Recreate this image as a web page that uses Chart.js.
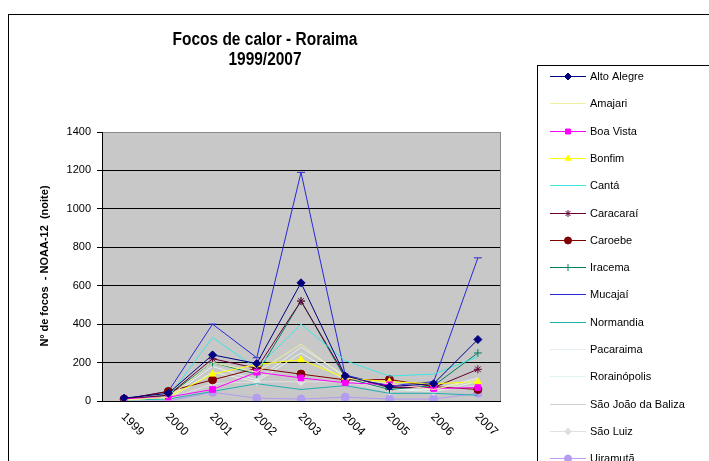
<!DOCTYPE html>
<html><head><meta charset="utf-8">
<script src="https://cdn.jsdelivr.net/npm/chart.js@4.4.0/dist/chart.umd.min.js"></script>
<style>html,body{margin:0;padding:0;background:#fff;}#wrap{width:709px;height:461px;position:relative;}</style>
</head><body><div id="wrap"><canvas id="c" width="709" height="461"></canvas></div>
<script>
const years = ['1999','2000','2001','2002','2003','2004','2005','2006','2007'];
const yTicks = [0,200,400,600,800,1000,1200,1400];
const titleLines = ['Focos de calor - Roraima','1999/2007'];
const yTitle = 'Nº de focos  - NOAA-12  (noite)';

const altoAlegre   = [15, 40, 240, 195, 615, 130, 75, 90, 320];
const amajari      = [5, 20, 200, 150, 295, 120, 90, 60, 110];
const boaVista     = [10, 20, 60, 150, 120, 95, 85, 65, 70];
const bonfim       = [5, 20, 140, 190, 215, 120, 100, 90, 100];
const canta        = [5, 20, 330, 170, 400, 210, 130, 140, 230];
const caracarai    = [10, 30, 220, 170, 520, 130, 70, 70, 165];
const caroebe      = [10, 50, 110, 170, 140, 110, 112, 75, 60];
const iracema      = [10, 30, 200, 140, 520, 120, 60, 80, 250];
const mucajai      = [10, 50, 400, 225, 1190, 135, 80, 100, 745];
const normandia    = [5, 10, 50, 90, 60, 80, 40, 40, 30];
const pacaraima    = [5, 15, 180, 110, 280, 130, 60, 60, 120];
const rorainopolis = [5, 10, 150, 100, 250, 110, 60, 50, 100];
const saoJoao      = [5, 10, 80, 130, 150, 90, 50, 50, 70];
const saoLuiz      = [5, 10, 90, 100, 100, 100, 50, 50, 80];
const uiramuta     = [0, 0, 45, 15, 10, 20, 10, 10, 40];

const seriesNames = ['Alto Alegre','Amajari','Boa Vista','Bonfim','Cantá','Caracaraí','Caroebe','Iracema','Mucajaí','Normandia','Pacaraima','Rorainópolis','São João da Baliza','São Luiz','Uiramutã'];
const seriesData = [altoAlegre,amajari,boaVista,bonfim,canta,caracarai,caroebe,iracema,mucajai,normandia,pacaraima,rorainopolis,saoJoao,saoLuiz,uiramuta];
const seriesColors = ['#000080','#f0f0a0','#ff00ff','#ffff00','#40e4e4','#660033','#800000','#008060','#2828d8','#20b0b0','#e2f0f6','#e0f6e8','#d0d0d0','#e0e0e0','#b49cf0'];
const seriesMarkers = ['rectRot',false,'rect','triangle',false,'star','circle','cross','line',false,false,false,false,'rectRot','circle'];

const datasets = seriesNames.map((n,i)=>({
  label:n, data:seriesData[i], borderColor:seriesColors[i], backgroundColor:seriesColors[i],
  borderWidth:1, tension:0, pointStyle:seriesMarkers[i]||'circle',
  pointRadius:seriesMarkers[i]?4:0, pointBorderWidth:1, pointHoverRadius:0
}));

const deco = {
  id:'deco',
  beforeDraw(chart){
    const ctx=chart.ctx, a=chart.chartArea;
    ctx.save();
    ctx.fillStyle='#fff'; ctx.fillRect(0,0,chart.width,chart.height);
    ctx.strokeStyle='#000'; ctx.lineWidth=1;
    ctx.strokeRect(8.5,14.5,760,520);
    ctx.fillStyle='#c8c8c8'; ctx.fillRect(a.left,a.top,a.right-a.left,a.bottom-a.top);
    ctx.strokeStyle='#8a8a8a';
    ctx.beginPath(); ctx.moveTo(a.right+0.5,a.top); ctx.lineTo(a.right+0.5,a.bottom); ctx.stroke();
    ctx.restore();
  },
  afterDraw(chart){
    const ctx=chart.ctx, a=chart.chartArea;
    ctx.save();
    ctx.fillStyle='#000'; ctx.textAlign='center'; ctx.textBaseline='middle';
    ctx.font='bold 18px "Liberation Sans", Arial, sans-serif';
    ctx.save(); ctx.translate(265,40); ctx.scale(0.86,1); ctx.fillText(titleLines[0],0,0); ctx.restore();
    ctx.save(); ctx.translate(265,60); ctx.scale(0.86,1); ctx.fillText(titleLines[1],0,0); ctx.restore();
    ctx.save();
    ctx.translate(45,266); ctx.rotate(-Math.PI/2);
    ctx.font='bold 11px "Liberation Sans", Arial, sans-serif';
    ctx.fillText(yTitle,0,0);
    ctx.restore();
    const xs=chart.scales.x;
    ctx.font='12px "Liberation Sans", Arial, sans-serif';
    ctx.textAlign='left'; ctx.textBaseline='middle';
    years.forEach((y,i)=>{
      const px=xs.getPixelForValue(i);
      ctx.save(); ctx.translate(px-1,415); ctx.rotate(Math.PI/4);
      ctx.fillText(y,0,0); ctx.restore();
    });
    ctx.strokeStyle='#000'; ctx.lineWidth=1;
    ctx.strokeRect(537.5,65.5,220,440);
    ctx.font='11px "Liberation Sans", Arial, sans-serif';
    ctx.textAlign='left'; ctx.textBaseline='middle';
    chart.data.datasets.forEach((ds,i)=>{
      const y=Math.round(76+i*27.3)+0.5;
      ctx.strokeStyle=ds.borderColor; ctx.lineWidth=1;
      ctx.beginPath(); ctx.moveTo(550,y); ctx.lineTo(586,y); ctx.stroke();
      if(ds.pointRadius>0 && Chart.helpers && Chart.helpers.drawPoint){
        ctx.fillStyle=ds.backgroundColor; ctx.strokeStyle=ds.borderColor;
        Chart.helpers.drawPoint(ctx,{pointStyle:ds.pointStyle,radius:3.5,rotation:0,borderWidth:1},568,y);
      }
      ctx.fillStyle='#000';
      ctx.fillText(ds.label,590,y);
    });
    ctx.restore();
  }
};

new Chart(document.getElementById('c'),{
  type:'line',
  data:{labels:years,datasets},
  options:{
    responsive:false, animation:false, devicePixelRatio:1,
    layout:{padding:{left:8,top:132,right:209,bottom:0}},
    plugins:{legend:{display:false},title:{display:false},tooltip:{enabled:false}},
    scales:{
      x:{type:'category',offset:true,
        grid:{display:false,drawTicks:false},
        border:{display:true,color:'#000',width:1},
        ticks:{display:false},
        afterFit(s){s.height=60;}
      },
      y:{min:0,max:1400,
        afterBuildTicks(s){s.ticks=yTicks.map(v=>({value:v}));},
        grid:{color:(c)=>c.tick&&c.tick.value===1400?'#8a8a8a':'#000',lineWidth:1,drawTicks:true,tickLength:5,tickColor:'#000'},
        border:{display:true,color:'#000',width:1},
        ticks:{color:'#000',padding:6,font:{family:'"Liberation Sans", Arial, sans-serif',size:11},callback:(v)=>String(v)},
        afterFit(s){s.width=94;}
      }
    }
  },
  plugins:[deco]
});
</script></body></html>
